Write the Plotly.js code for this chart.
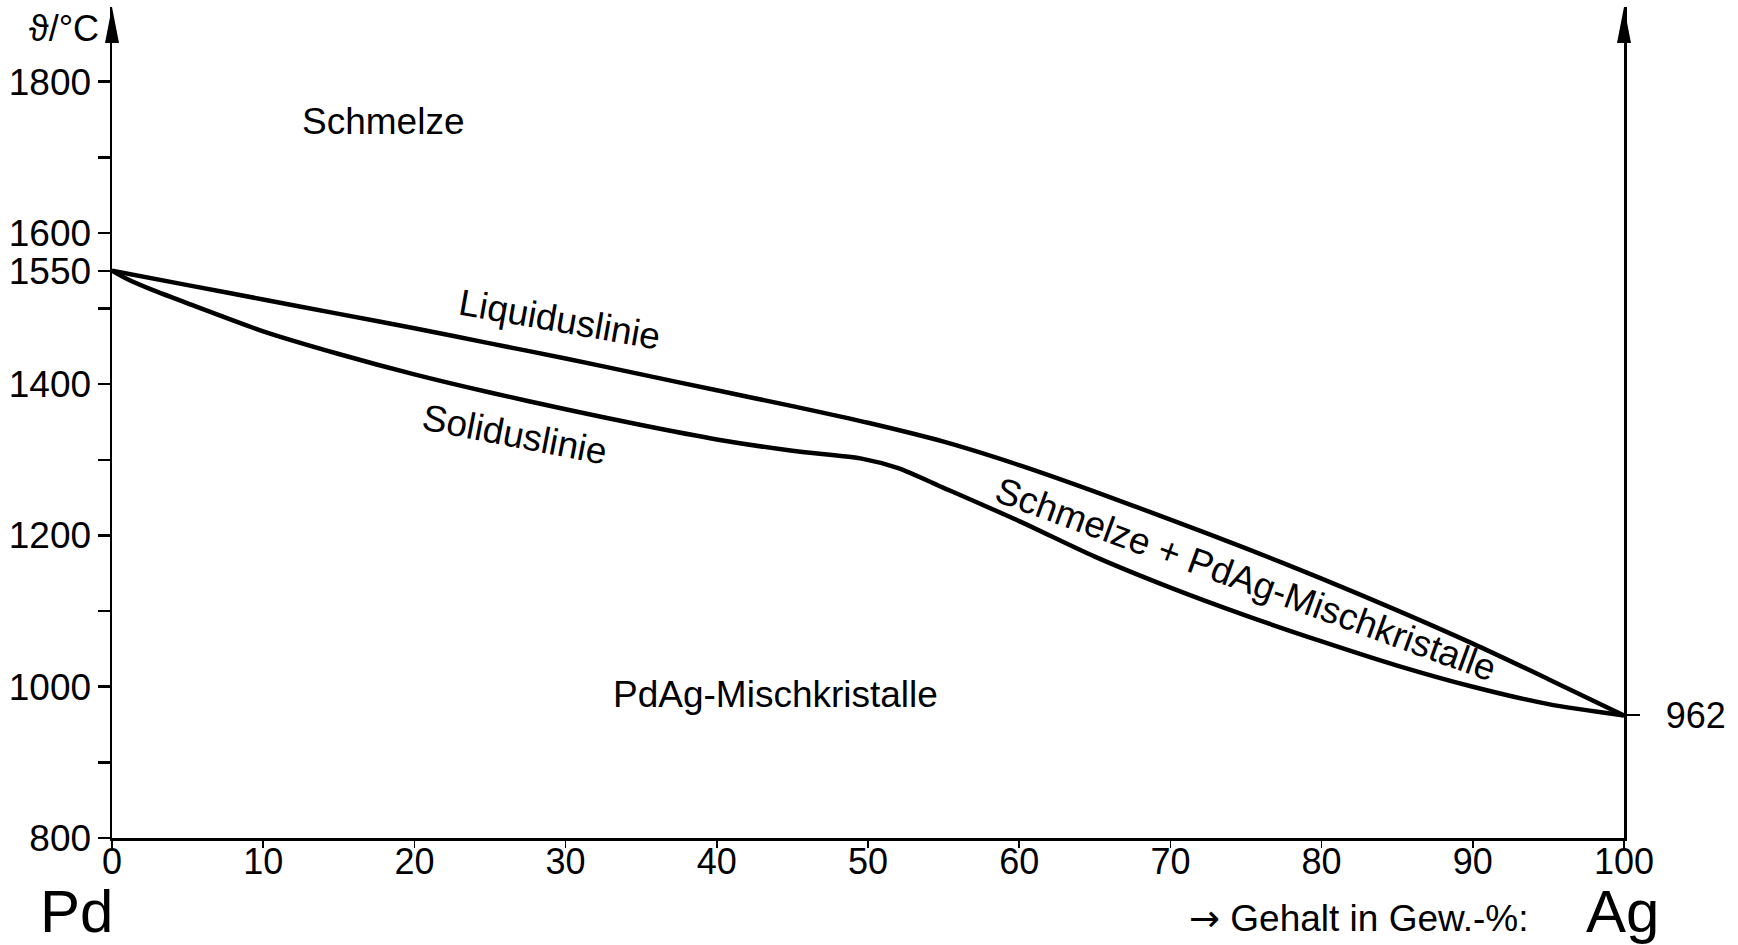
<!DOCTYPE html>
<html>
<head>
<meta charset="utf-8">
<script src="https://cdn.plot.ly/plotly-3.0.1.min.js"></script>
<style>html,body{margin:0;padding:0;background:#fff;}#chart{width:1738px;height:945px;}</style>
</head>
<body>
<div id="chart"></div>
<script>
// Liquidus line (Gew.-% Ag, °C)
var liquidusX = [0, 5, 10, 15, 20, 25, 30, 35, 40, 45, 50, 55, 60, 65, 70, 75, 80, 85, 90, 95, 100];
var liquidusT = [1550, 1531, 1512, 1493, 1474, 1454, 1434, 1413, 1392, 1371, 1349, 1324, 1293, 1258, 1221, 1183, 1143, 1101, 1057, 1010, 962];
// Solidus line
var solidusX = [0, 1, 2.5, 5, 10, 15, 20, 25, 30, 35, 40, 45, 49.5, 52, 55, 60, 65, 70, 75, 80, 85, 90, 95, 100];
var solidusT = [1550, 1539, 1526, 1507, 1470, 1440, 1413, 1389, 1367, 1346, 1327, 1312, 1302, 1289, 1263, 1219, 1172, 1131, 1094, 1060, 1028, 1000, 977, 962];

// Axis ticks
var yTickVals = [800, 900, 1000, 1100, 1200, 1300, 1400, 1500, 1550, 1600, 1700, 1800];
var yTickText = ['800', '', '1000', '', '1200', '', '1400', '', '1550', '1600', '', '1800'];
var xTickVals = [0, 10, 20, 30, 40, 50, 60, 70, 80, 90, 100];
var xTickText = ['0', '10', '20', '30', '40', '50', '60', '70', '80', '90', '100'];
var rightTickVals = [962];
var rightTickText = ['962'];

// Region labels: text, x (Gew.-%), y (°C), angle
var labelTexts = ['Schmelze', 'Liquiduslinie', 'Soliduslinie', 'Schmelze + PdAg-Mischkristalle', 'PdAg-Mischkristalle'];
var labelX = [17.9, 29.6, 26.6, 75.0, 43.85];
var labelY = [1748, 1486, 1333, 1142, 990];
var labelAngle = [0, 10, 11, 20, 0];

var FONT = 'Liberation Sans, Arial, sans-serif';

var traces = [
  {x: liquidusX, y: liquidusT, type: 'scatter', mode: 'lines',
   line: {color: '#000', width: 4.5, shape: 'spline', smoothing: 0.8}, hoverinfo: 'skip', showlegend: false},
  {x: solidusX, y: solidusT, type: 'scatter', mode: 'lines',
   line: {color: '#000', width: 4.5, shape: 'spline', smoothing: 0.7}, hoverinfo: 'skip', showlegend: false},
  {x: [100], y: [962], yaxis: 'y2', type: 'scatter', mode: 'markers', marker: {opacity: 0}, hoverinfo: 'skip', showlegend: false}
];

var yTop = 800 + 831 / 0.7563;

var annotations = [];
for (var i = 0; i < labelTexts.length; i++) {
  annotations.push({text: labelTexts[i], x: labelX[i], y: labelY[i], xref: 'x', yref: 'y',
    showarrow: false, textangle: labelAngle[i], xanchor: 'center', yanchor: 'middle',
    font: {family: FONT, size: 37, color: '#000'}});
}
annotations.push({text: 'ϑ/°C', xref: 'paper', yref: 'paper', x: 0, y: 1, xanchor: 'right', yanchor: 'middle',
  xshift: -11, yshift: -21, showarrow: false, font: {family: FONT, size: 36, color: '#000'}});
annotations.push({text: 'Pd', xref: 'x', yref: 'paper', x: 0, y: 0, xanchor: 'right', yanchor: 'middle',
  xshift: 3, yshift: -73, showarrow: false, font: {family: FONT, size: 60, color: '#000'}});
annotations.push({text: 'Ag', xref: 'x', yref: 'paper', x: 100, y: 0, xanchor: 'center', yanchor: 'middle',
  xshift: -2, yshift: -73, showarrow: false, font: {family: FONT, size: 60, color: '#000'}});
annotations.push({text: '<span style="font-family:DejaVu Sans">→</span> Gehalt in Gew.-%:', xref: 'x', yref: 'paper', x: 100, y: 0, xanchor: 'right', yanchor: 'middle',
  xshift: -94, yshift: -80, showarrow: false, font: {family: FONT, size: 37, color: '#000'}});

var arrowPath = 'M -7,-36 L 0,0 L 7,-36 Z';
var shapes = [
  {type: 'path', xref: 'paper', yref: 'paper', xsizemode: 'pixel', ysizemode: 'pixel', xanchor: 0, yanchor: 1,
   path: arrowPath, fillcolor: '#000', line: {color: '#000', width: 0}},
  {type: 'path', xref: 'paper', yref: 'paper', xsizemode: 'pixel', ysizemode: 'pixel', xanchor: 1, yanchor: 1,
   path: arrowPath, fillcolor: '#000', line: {color: '#000', width: 0}}
];

var layout = {
  width: 1738, height: 945,
  margin: {l: 112, r: 114, t: 7, b: 107, pad: 0},
  paper_bgcolor: '#fff', plot_bgcolor: '#fff',
  showlegend: false,
  font: {family: FONT, color: '#000'},
  xaxis: {range: [0, 100], showgrid: false, zeroline: false, showline: true, linecolor: '#000', linewidth: 2.5,
    tickmode: 'array', tickvals: xTickVals, ticktext: xTickText, ticks: 'outside', ticklen: 7, tickwidth: 1.5,
    tickcolor: '#000', tickfont: {family: FONT, size: 36, color: '#000'}, ticklabelstandoff: -17, fixedrange: true},
  yaxis: {range: [800, yTop], showgrid: false, zeroline: false, showline: true, linecolor: '#000', linewidth: 2.5,
    tickmode: 'array', tickvals: yTickVals, ticktext: yTickText, ticks: 'outside', ticklen: 12, tickwidth: 2.5,
    tickcolor: '#000', tickfont: {family: FONT, size: 37, color: '#000'}, ticklabelstandoff: -1, fixedrange: true},
  yaxis2: {range: [800, yTop], overlaying: 'y', side: 'right', anchor: 'x', showgrid: false, zeroline: false,
    showline: true, linecolor: '#000', linewidth: 2.5, tickmode: 'array', tickvals: rightTickVals, ticktext: rightTickText,
    ticks: 'outside', ticklen: 13, tickwidth: 2, tickcolor: '#000', tickfont: {family: FONT, size: 36, color: '#000'},
    ticklabelstandoff: 19, fixedrange: true},
  annotations: annotations,
  shapes: shapes
};

Plotly.newPlot('chart', traces, layout, {staticPlot: true, displayModeBar: false});
</script>
</body>
</html>
